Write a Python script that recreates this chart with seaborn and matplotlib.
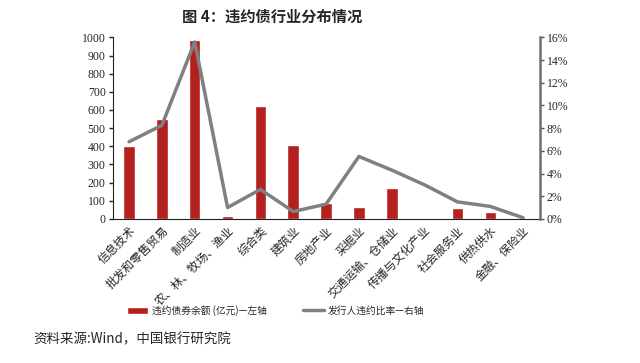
import numpy as np
import pandas as pd
import seaborn as sns
import matplotlib.pyplot as plt
from matplotlib.patches import Patch
from matplotlib.lines import Line2D
from matplotlib.ticker import FuncFormatter

industries = ['信息技术', '批发和零售贸易', '制造业', '农、林、牧场、渔业', '综合类', '建筑业',
              '房地产业', '采掘业', '交通运输、仓储业', '传播与文化产业', '社会服务业', '供热供水',
              '金融、保险业']
default_amount = [401, 548, 987, 16, 621, 407, 86, 68, 172, 6, 62, 40, 5]
default_rate = [6.8, 8.25, 15.6, 1.0, 2.6, 0.65, 1.3, 5.5, 4.3, 3.0, 1.5, 1.1, 0.1]

bar_color = '#B3201D'
line_color = '#808080'

df = pd.DataFrame({'industry': industries, 'amount': default_amount,
                   'rate': default_rate, 'pos': np.arange(len(industries))})

sns.set_style('white')
plt.rcParams['font.family'] = ['Noto Sans CJK SC', 'DejaVu Sans']

fig = plt.figure(figsize=(6.4, 3.63), dpi=100)
ax = fig.add_axes([0.176, 0.397, 0.667, 0.5])

sns.barplot(data=df, x='pos', y='amount', color=bar_color, width=0.35,
            saturation=1, native_scale=True, ax=ax)
ax2 = ax.twinx()
sns.lineplot(data=df, x='pos', y='rate', color=line_color, linewidth=2.5, ax=ax2)

ax.set_xlim(-0.5, len(industries) - 0.5)
ax.set_ylim(0, 1000)
ax2.set_ylim(0, 16)
ax.set_yticks(np.arange(0, 1001, 100))
ax2.set_yticks(np.arange(0, 17, 2))
ax2.yaxis.set_major_formatter(FuncFormatter(lambda v, p: f'{v:.0f}%'))

ax.set_xticks(np.arange(len(industries)))
ax.set_xticklabels(industries, rotation=45, ha='right', rotation_mode='anchor', fontsize=8.5)
ax.set_xticks(np.arange(-0.5, len(industries), 1), minor=True)
ax.tick_params(axis='x', which='major', length=0, pad=4)
ax.tick_params(axis='x', which='minor', length=4, width=1, color='#222222', direction='out')
ax.tick_params(axis='y', length=3, width=1, color='#222222', direction='out', pad=2)
ax2.tick_params(axis='y', length=3, width=1, color='#555555', direction='out', pad=2)

for a in (ax, ax2):
    for lab in a.get_yticklabels():
        lab.set_family('Liberation Serif')
        lab.set_fontsize(8.5)
    a.set_xlabel('')
    a.set_ylabel('')
    a.spines['top'].set_visible(False)

for a in (ax, ax2):
    a.spines['left'].set_color('#222222')
    a.spines['bottom'].set_color('#222222')
    a.spines['right'].set_color('#6f6f6f')
ax.spines['right'].set_visible(False)
ax2.spines['right'].set_linewidth(1.8)
ax2.spines['left'].set_visible(False)
ax2.spines['bottom'].set_visible(False)

fig.text(0.284, 0.953, '图 4：违约债行业分布情况', ha='left', va='center',
         fontsize=11, fontweight='bold')

handles = [Patch(facecolor=bar_color), Line2D([0], [0], color=line_color, linewidth=2.5)]
labels = ['违约债券余额 (亿元)—左轴', '发行人违约比率—右轴']
fig.legend(handles, labels, loc='center', bbox_to_anchor=(0.431, 0.145), ncol=2,
           frameon=False, fontsize=7, handlelength=2.1, handleheight=0.7,
           columnspacing=3.8, handletextpad=0.4)

fig.text(0.052, 0.065, '资料来源:Wind，中国银行研究院', ha='left', va='center', fontsize=9.7)

fig.savefig('out.png', dpi=100)
